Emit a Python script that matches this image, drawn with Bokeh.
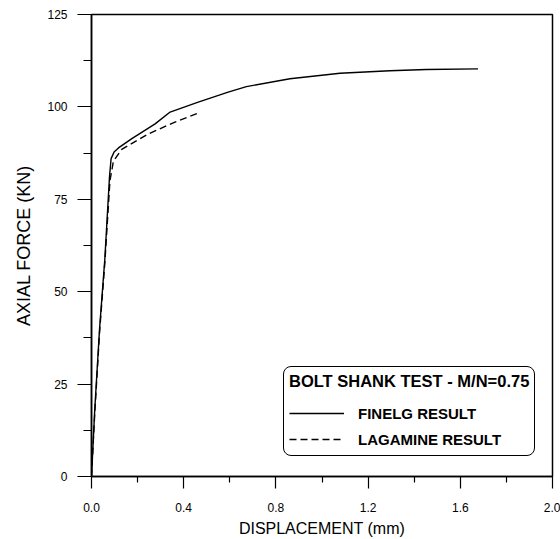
from bokeh.plotting import figure
from bokeh.models import Range1d, Legend, LegendItem, FixedTicker
from bokeh.embed import file_html
from bokeh.resources import INLINE

# FINELG result (solid)
finelg_x = [0, 0.014, 0.035, 0.058, 0.078, 0.085, 0.098, 0.117, 0.175, 0.276, 0.341,
            0.463, 0.593, 0.672, 0.861, 1.078, 1.294, 1.453, 1.677]
finelg_y = [0, 18, 40, 59, 81, 86, 87.8, 88.9, 91.4, 95.4, 98.6,
            101.3, 104, 105.5, 107.6, 109.1, 109.8, 110.1, 110.3]

# LAGAMINE result (dashed)
lagamine_x = [0, 0.014, 0.035, 0.058, 0.08, 0.095, 0.131, 0.247, 0.362, 0.463]
lagamine_y = [0, 17, 39, 58, 80, 85.3, 88.5, 92.7, 95.9, 98.3]

x_ticks = [0.0, 0.4, 0.8, 1.2, 1.6, 2.0]
y_ticks = [0, 25, 50, 75, 100, 125]

FONT = "Liberation Sans"

p = figure(width=560, height=539, output_backend="svg", toolbar_location=None,
           x_range=Range1d(0, 2.0), y_range=Range1d(0, 125),
           min_border_left=91, min_border_right=8, min_border_top=14, min_border_bottom=63)

p.xgrid.visible = False
p.ygrid.visible = False
p.outline_line_color = "black"
p.outline_line_width = 1.5
p.outline_line_alpha = 1.0
p.background_fill_color = "white"
p.border_fill_color = "white"

r1 = p.line(finelg_x, finelg_y, line_color="black", line_width=1.4)
r2 = p.line(lagamine_x, lagamine_y, line_color="black", line_width=1.4, line_dash="7 4")

for ax in (p.xaxis[0], p.yaxis[0]):
    ax.axis_line_color = "black"
    ax.axis_line_width = 1.5
    ax.major_tick_line_color = "black"
    ax.minor_tick_line_color = "black"
    ax.major_tick_line_width = 1.2
    ax.minor_tick_line_width = 1.2
    ax.major_tick_in = 0
    ax.minor_tick_in = 0
    ax.major_label_text_font = FONT
    ax.major_label_text_font_size = "12px"
    ax.major_label_text_color = "black"
    ax.axis_label_text_font = FONT
    ax.axis_label_text_font_style = "normal"
    ax.axis_label_text_color = "black"

p.xaxis.ticker = FixedTicker(ticks=x_ticks, minor_ticks=[0.2, 0.6, 1.0, 1.4, 1.8])
p.yaxis.ticker = FixedTicker(ticks=y_ticks, minor_ticks=[12.5, 37.5, 62.5, 87.5, 112.5])
p.xaxis.major_label_overrides = {t: f"{t:.1f}" for t in x_ticks}
p.xaxis.major_tick_out = 12
p.xaxis.minor_tick_out = 6
p.yaxis.major_tick_out = 14
p.yaxis.minor_tick_out = 8
p.xaxis.major_label_standoff = 14
p.yaxis.major_label_standoff = 10
p.xaxis.axis_label = "DISPLACEMENT (mm)"
p.yaxis.axis_label = "AXIAL FORCE (KN)"
p.xaxis.axis_label_text_font_size = "16px"
p.yaxis.axis_label_text_font_size = "18px"
p.xaxis.axis_label_standoff = 5
p.yaxis.axis_label_standoff = 10

legend = Legend(items=[LegendItem(label="FINELG RESULT", renderers=[r1]),
                       LegendItem(label="LAGAMINE RESULT", renderers=[r2])],
                location=(192, 20))
legend.title = "BOLT SHANK TEST - M/N=0.75"
legend.title_text_font = FONT
legend.title_text_font_style = "bold"
legend.title_text_font_size = "16.5px"
legend.title_text_color = "black"
legend.title_standoff = 11
legend.label_text_font = FONT
legend.label_text_font_style = "bold"
legend.label_text_font_size = "15px"
legend.label_text_color = "black"
legend.glyph_width = 55
legend.glyph_height = 22
legend.label_height = 22
legend.label_standoff = 14
legend.spacing = 4
legend.padding = 5
legend.margin = 0
legend.border_line_color = "black"
legend.border_line_alpha = 1.0
legend.border_line_width = 1.5
legend.background_fill_color = "white"
legend.background_fill_alpha = 1.0
if "border_radius" in Legend.properties():
    legend.border_radius = 8
p.add_layout(legend, "center")

open("out.html", "w").write(file_html(p, INLINE))
